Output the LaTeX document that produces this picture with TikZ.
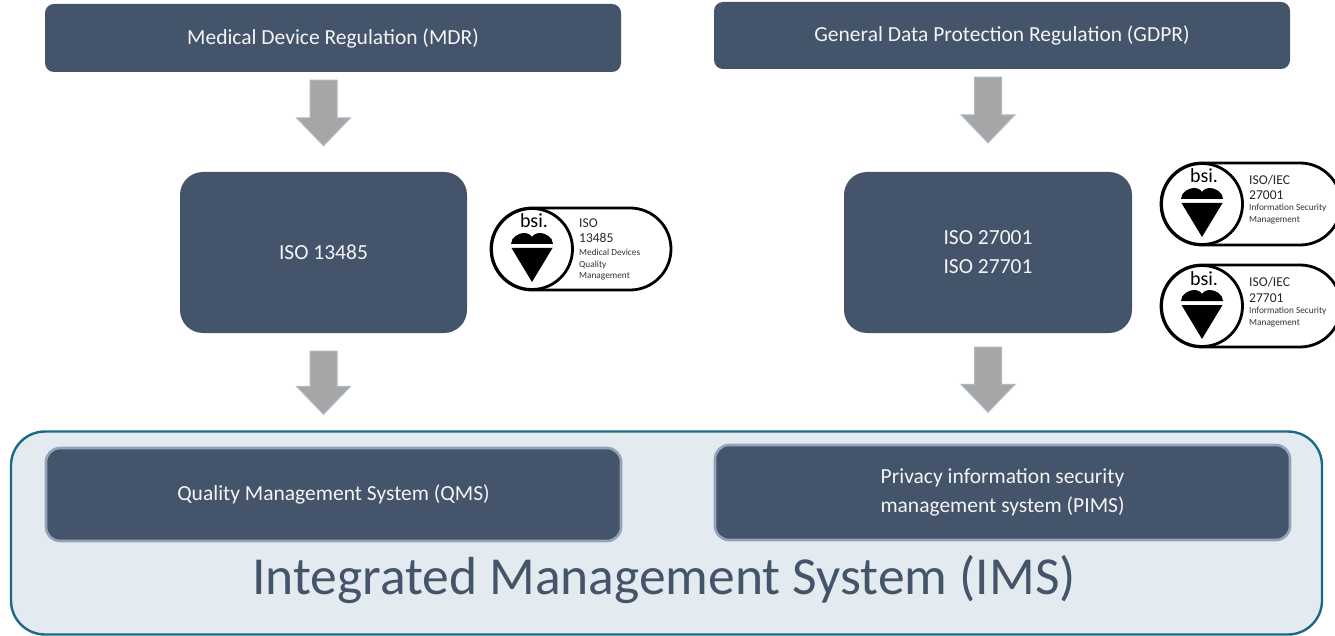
\documentclass[tikz,border=0pt]{standalone}
\usepackage{fontspec}
\setmainfont{Carlito}
\usetikzlibrary{calc}
\definecolor{slate}{HTML}{44546A}
\definecolor{imsfill}{HTML}{E4EBF0}
\definecolor{imsline}{HTML}{1A6A85}
\definecolor{softline}{HTML}{93A4BA}
\definecolor{arrowfill}{HTML}{A6A6A6}
\definecolor{arrowline}{HTML}{ADB9CA}
\definecolor{offwhite}{HTML}{F4F4F4}
\tikzset{
  x=1pt,y=-1pt,
  regbox/.style={fill=slate,rounded corners=9pt,inner sep=0pt,text=offwhite,font=\fontsize{21.5}{29}\selectfont,align=center},
  isobox/.style={regbox,rounded corners=23pt},
  sysbox/.style={regbox,draw=softline,line width=2.6pt,rounded corners=14pt},
  imsbox/.style={fill=imsfill,draw=imsline,line width=2.4pt,rounded corners=34pt,inner sep=0pt},
  imstitle/.style={text=slate,inner sep=0pt,font=\fontsize{53.5}{60}\selectfont},
  blockarrow/.style={fill=arrowfill,draw=arrowline,line width=1pt,line join=miter},
  pill/.style={draw=black,fill=white,line width=2.8pt},
  badge/.style={circle,draw=black,fill=white,line width=2.8pt,minimum size=81pt,inner sep=0pt},
  logobig/.style={anchor=base west,inner sep=0pt,font=\fontsize{13.5}{14}\selectfont,text=black!85},
  logosmall/.style={anchor=base west,inner sep=0pt,font=\fontsize{9.3}{10}\selectfont,text=black!80},
}
% block arrow from coordinate (#1) down to tip coordinate (#2)
\newcommand{\blockarrow}[2]{%
  \draw[blockarrow] ($(#1)+(-13.5,0)$) -- ($(#1)+(13.5,0)$) -- ($(#2)+(13.5,-28)$) -- ($(#2)+(27,-28)$)
    -- (#2) -- ($(#2)+(-27,-28)$) -- ($(#2)+(-13.5,-28)$) -- cycle;}
% bsi badge centred at (x,y), named #1
\newcommand{\bsibadge}[3]{%
  \coordinate (#1) at (#2,#3);
  \draw[pill] ($(#1)+(0,-41)$) -- ($(#1)+(98,-41)$) arc[start angle=90,end angle=-90,radius=41pt]
    -- ($(#1)+(0,41)$) arc[start angle=-90,end angle=-270,radius=41pt] -- cycle;
  \node[badge] (#1c) at (#1) {};
  \node[anchor=base,inner sep=0pt,font=\fontsize{20}{20}\selectfont,text=black] (#1b) at ($(#1)+(2,-21)$) {bsi.};
  \fill[black] ($(#1)+(-21,-5)$) .. controls ($(#1)+(-21,-12)$) and ($(#1)+(-13,-16)$) .. ($(#1)+(-8,-16)$)
     .. controls ($(#1)+(-4,-16)$) and ($(#1)+(-1,-14)$) .. ($(#1)+(0,-12)$)
     .. controls ($(#1)+(1,-14)$) and ($(#1)+(4,-16)$) .. ($(#1)+(8,-16)$)
     .. controls ($(#1)+(13,-16)$) and ($(#1)+(21,-12)$) .. ($(#1)+(21,-5)$) -- cycle;
  \fill[black] ($(#1)+(-20.5,-1)$) -- ($(#1)+(20.5,-1)$) -- ($(#1)+(0,33)$) -- cycle;}
\begin{document}
\begin{tikzpicture}
\useasboundingbox (0,0) rectangle (1335,636);
% top row
\node[regbox,minimum width=576pt,minimum height=68pt] (mdr) at (333,38) {Medical Device Regulation (MDR)};
\node[regbox,minimum width=576pt,minimum height=67pt] (gdpr) at (1002,35.5) {General Data Protection Regulation (GDPR)};
% standards
\node[isobox,minimum width=287pt,minimum height=161pt] (iso1) at (323.5,252.5) {ISO 13485};
\node[isobox,minimum width=288pt,minimum height=161pt] (iso2) at (988,252.5) {ISO 27001\\ISO 27701};
% IMS container
\node[imsbox,minimum width=1311pt,minimum height=203pt] (ims) at (666.5,533) {};
\node[sysbox,minimum width=575pt,minimum height=93pt] (qms) at (333.5,494.5) {Quality Management System (QMS)};
\node[sysbox,minimum width=575pt,minimum height=95pt] (pims) at (1002.5,492.5) {Privacy information security\\management system (PIMS)};
\node[imstitle] (imst) at (664,580) {Integrated Management System (IMS)};
% arrows
\coordinate (a1s) at ($(iso1.north |- mdr.south)+(0,8)$);
\coordinate (a1e) at ($(iso1.north)+(0,-26)$);
\coordinate (a2s) at ($(iso1.south)+(0,18)$);
\coordinate (a2e) at ($(iso1.center |- ims.north)+(0,-16)$);
\coordinate (a3s) at ($(iso2.north |- gdpr.south)+(0,8)$);
\coordinate (a3e) at ($(iso2.north)+(0,-29)$);
\coordinate (a4s) at ($(iso2.south)+(0,14)$);
\coordinate (a4e) at ($(iso2.center |- ims.north)+(0,-18)$);
\blockarrow{a1s}{a1e}
\blockarrow{a2s}{a2e}
\blockarrow{a3s}{a3e}
\blockarrow{a4s}{a4e}
% badges
\bsibadge{b1}{532}{249}
\node[logobig] (b1a) at ($(b1)+(47,-21)$) {ISO};
\node[logobig] (b1d) at ($(b1)+(47,-6)$) {13485};
\node[logosmall] (b1e) at ($(b1)+(47,6)$) {Medical Devices};
\node[logosmall] (b1f) at ($(b1)+(47,18)$) {Quality};
\node[logosmall] (b1g) at ($(b1)+(47,29)$) {Management};
\bsibadge{b2}{1202}{204}
\node[logobig] (b2a) at ($(b2)+(47,-19)$) {ISO/IEC};
\node[logobig] (b2d) at ($(b2)+(47,-4)$) {27001};
\node[logosmall] (b2e) at ($(b2)+(47,7)$) {Information Security};
\node[logosmall] (b2f) at ($(b2)+(47,19)$) {Management};
\bsibadge{b3}{1202}{306}
\node[logobig] (b3a) at ($(b3)+(47,-19)$) {ISO/IEC};
\node[logobig] (b3d) at ($(b3)+(47,-4)$) {27701};
\node[logosmall] (b3e) at ($(b3)+(47,7)$) {Information Security};
\node[logosmall] (b3f) at ($(b3)+(47,19)$) {Management};
\end{tikzpicture}
\end{document}
